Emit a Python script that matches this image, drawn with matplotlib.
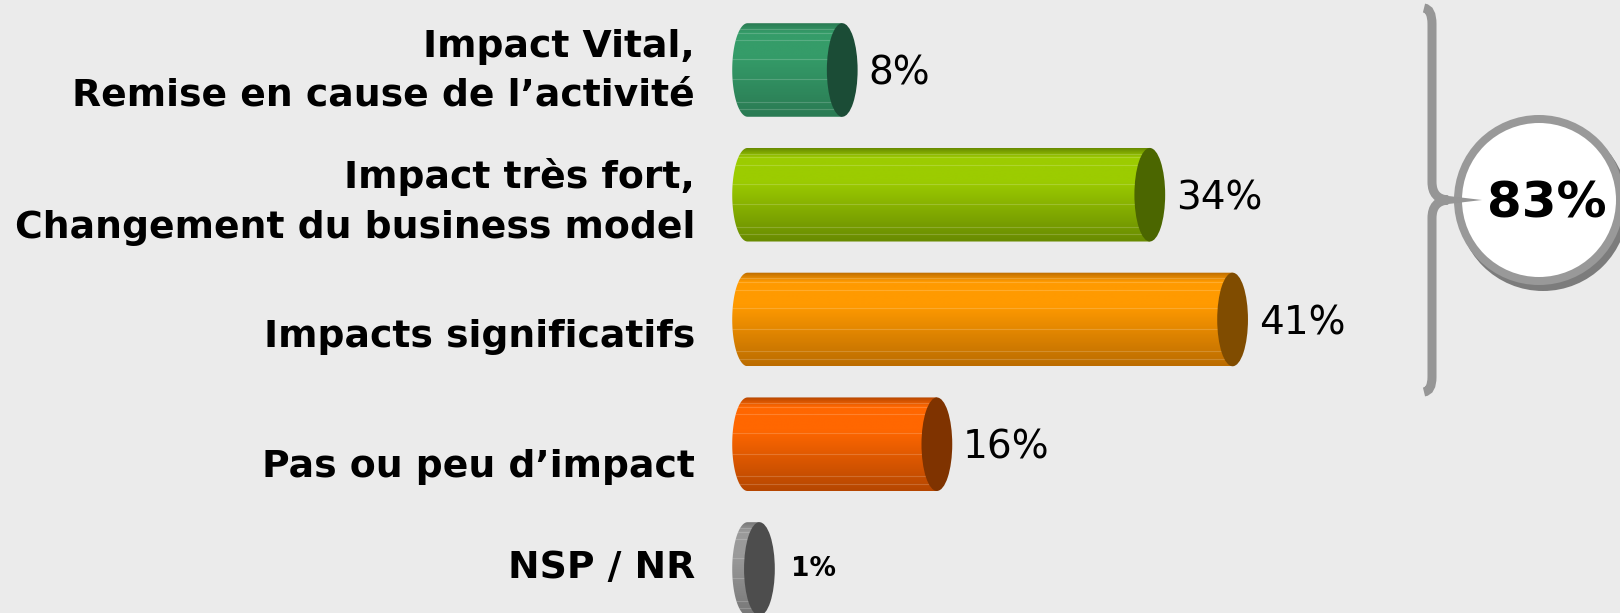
import numpy as np
import matplotlib
matplotlib.use("Agg")
import matplotlib.pyplot as plt
from matplotlib.colors import LinearSegmentedColormap
from matplotlib.patches import Ellipse, Polygon, Circle, PathPatch
from matplotlib.path import Path

# data
labels = ["Impact Vital,\nRemise en cause de l\u2019activit\u00e9",
          "Impact tr\u00e8s fort,\nChangement du business model",
          "Impacts significatifs",
          "Pas ou peu d\u2019impact",
          "NSP / NR"]
values = [8, 34, 41, 16, 1]
total_label = "83%"

# colours per bar: light (highlight), dark (bottom), cap
light_cols = ["#359c69", "#9ccc00", "#ff9a00", "#ff6700", "#9a9a9a"]
dark_cols = ["#2a7a53", "#688a00", "#bb6c00", "#b54600", "#777777"]
cap_cols = ["#1b4c36", "#4b6600", "#804c00", "#7f3300", "#4d4d4d"]
# the category labels don't sit exactly on the bars in the original
label_shift = [0.01, 0.06, 0.14, 0.18, -0.01]

bg = "#ebebeb"
fig = plt.figure(figsize=(16.2, 6.13), dpi=100, facecolor=bg)
ax = fig.add_axes([0, 0, 1, 1])
ax.set_facecolor(bg)

bar_h = 0.75   # bar thickness in category units
a = 1.3        # half width of the end ellipse, in % units
x0 = 0.0       # start of the cylinders

for i, (lab, v) in enumerate(zip(labels, values)):
    y = i
    top, bot = y - bar_h / 2, y + bar_h / 2
    t = np.linspace(3 * np.pi / 2, np.pi / 2, 60)
    arc = np.column_stack([x0 + a * np.cos(t), y - bar_h / 2 * np.sin(t)])
    verts = np.vstack([[[x0, top], [v, top], [v, bot], [x0, bot]], arc])
    body = Polygon(verts, closed=True, facecolor="none", edgecolor="none")
    ax.add_patch(body)

    cmap = LinearSegmentedColormap.from_list(
        "c%d" % i, [(0, dark_cols[i]), (0.1, light_cols[i]), (0.35, light_cols[i]), (1, dark_cols[i])])
    grad = np.linspace(0, 1, 256).reshape(-1, 1)
    im = ax.imshow(grad, cmap=cmap, extent=[x0 - a, v, bot, top],
                   aspect="auto", origin="upper", zorder=2)
    im.set_clip_path(body)

    # faint streaks on the cylinder
    for f in [0.06, 0.1, 0.18, 0.38, 0.6, 0.84, 0.92]:
        ln, = ax.plot([x0 - a, v], [top + f * bar_h] * 2, color="white",
                      alpha=0.18, lw=0.8, zorder=2.5)
        ln.set_clip_path(body)

    ax.add_patch(Ellipse((v, y), 2 * a, bar_h, facecolor=cap_cols[i],
                         edgecolor="none", zorder=3))

    ax.text(-4.45, y + label_shift[i], lab, ha="right", va="center", fontsize=27.2,
            fontweight="bold", linespacing=1.48, color="black")
    if v < 5:
        ax.text(v + a + 1.4, y, "%d%%" % v, ha="left", va="center",
                fontsize=19, fontweight="bold")
    else:
        ax.text(v + a + 0.9, y + 0.03, "%d%%" % v, ha="left", va="center", fontsize=28)

ax.set_xlim(-63.2, 73.75)
ax.set_ylim(4.353, -0.561)
ax.axis("off")

# brace and total circle, in pixel units
ax2 = fig.add_axes([0, 0, 1, 1])
ax2.set_xlim(0, 1620)
ax2.set_ylim(613, 0)
ax2.axis("off")
ax2.patch.set_alpha(0)

brace = Path([(1424, 8), (1432, 9), (1432, 24), (1432, 182), (1432, 199), (1448, 200),
              (1448, 200), (1432, 201), (1432, 218), (1432, 377), (1432, 391), (1424, 392)],
             [Path.MOVETO, Path.CURVE3, Path.CURVE3, Path.LINETO, Path.CURVE3, Path.CURVE3,
              Path.MOVETO, Path.CURVE3, Path.CURVE3, Path.LINETO, Path.CURVE3, Path.CURVE3])
ax2.add_patch(PathPatch(brace, facecolor="none", edgecolor="#969696", lw=6.5))

ax2.add_patch(Circle((1543, 206), 85, facecolor="#7c7c7c", edgecolor="none"))
ax2.add_patch(Circle((1539, 200), 85, facecolor="#999999", edgecolor="none"))
ax2.add_patch(Circle((1539, 200), 77, facecolor="white", edgecolor="none"))
ax2.add_patch(Polygon([(1440, 195), (1482, 200), (1440, 205)], closed=True,
                      facecolor="#969696", edgecolor="none"))
ax2.text(1547, 203, total_label, ha="center", va="center", fontsize=36,
         fontweight="bold")

fig.savefig("out.png", dpi=100, facecolor=bg)
